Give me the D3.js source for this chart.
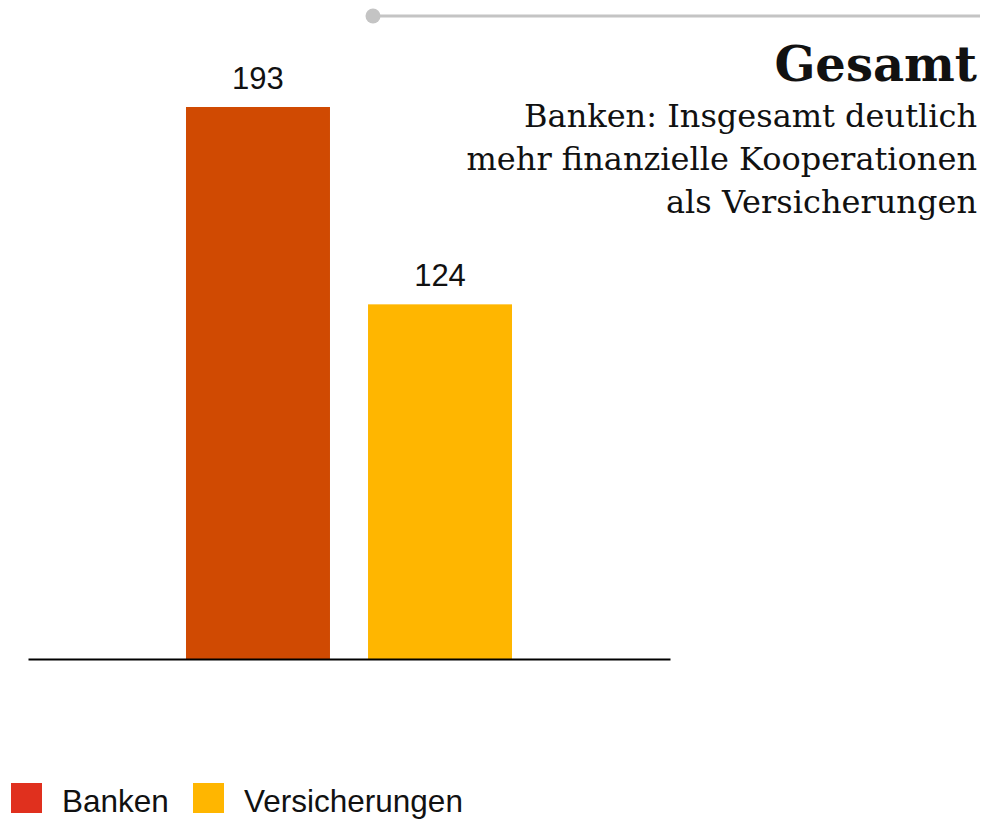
<!DOCTYPE html>
<html>
<head>
<meta charset="utf-8">
<script src="https://cdn.jsdelivr.net/npm/d3@7"></script>
<style>
  html, body { margin: 0; padding: 0; background: #fff; }
  svg { display: block; }
</style>
</head>
<body>
<svg id="chart"></svg>
<script>
// data
const categories = ['Banken', 'Versicherungen'];
const values = [193, 124];
const barColors = ['#d04a02', '#ffb600'];
const legendColors = ['#e0301e', '#ffb600'];
const title = 'Gesamt';
const subtitleLines = ['Banken: Insgesamt deutlich', 'mehr finanzielle Kooperationen', 'als Versicherungen'];

const width = 987;
const height = 821;
const plot = { left: 28, right: 670, top: 107, bottom: 659 };

const svg = d3.select('#chart').attr('width', width).attr('height', height);

// scales
const x = d3.scaleBand()
    .domain(categories)
    .range([plot.left, plot.right])
    .paddingInner(0.209)
    .paddingOuter(0.868);

const y = d3.scaleLinear()
    .domain([0, d3.max(values)])
    .range([plot.bottom, plot.top]);

const data = categories.map((c, i) => ({ cat: c, value: values[i], color: barColors[i] }));

// top decoration
svg.append('line')
    .attr('x1', 373).attr('x2', 980)
    .attr('y1', 16).attr('y2', 16)
    .attr('stroke', '#c4c4c4')
    .attr('stroke-width', 3);
svg.append('circle')
    .attr('cx', 373).attr('cy', 16).attr('r', 7.5)
    .attr('fill', '#c4c4c4');

// bars
svg.selectAll('.bar')
    .data(data)
    .enter()
    .append('rect')
    .attr('class', 'bar')
    .attr('x', d => x(d.cat))
    .attr('width', x.bandwidth())
    .attr('y', d => y(d.value))
    .attr('height', d => y(0) - y(d.value))
    .attr('fill', d => d.color);

// value labels
svg.selectAll('.label')
    .data(data)
    .enter()
    .append('text')
    .attr('class', 'label')
    .attr('x', d => x(d.cat) + x.bandwidth() / 2)
    .attr('y', d => y(d.value) - 18)
    .attr('text-anchor', 'middle')
    .attr('font-family', 'Liberation Sans, Arial, sans-serif')
    .attr('font-size', 31)
    .attr('fill', '#111')
    .text(d => d.value);

// baseline axis
const xAxis = d3.axisBottom(x).tickSize(0).tickFormat('');
const gAxis = svg.append('g')
    .attr('transform', 'translate(0,' + y(0) + ')')
    .call(xAxis);
gAxis.select('.domain')
    .attr('stroke', '#000')
    .attr('stroke-width', 2);

// title block
svg.append('text')
    .attr('x', 977).attr('y', 81)
    .attr('text-anchor', 'end')
    .attr('font-family', 'DejaVu Serif, serif')
    .attr('font-weight', 'bold')
    .attr('font-size', 48)
    .attr('fill', '#111')
    .text(title);

svg.selectAll('.sub')
    .data(subtitleLines)
    .enter()
    .append('text')
    .attr('class', 'sub')
    .attr('x', 977)
    .attr('y', (d, i) => 127 + i * 43)
    .attr('text-anchor', 'end')
    .attr('font-family', 'DejaVu Serif, serif')
    .attr('font-size', 32)
    .attr('fill', '#111')
    .text(d => d);

// legend
const legendX = [11, 193];
const legend = svg.selectAll('.legend')
    .data(categories)
    .enter()
    .append('g')
    .attr('class', 'legend')
    .attr('transform', (d, i) => 'translate(' + legendX[i] + ',783)');
legend.append('rect')
    .attr('width', 31).attr('height', 30)
    .attr('fill', (d, i) => legendColors[i]);
legend.append('text')
    .attr('x', 51).attr('y', 29)
    .attr('font-family', 'Liberation Sans, Arial, sans-serif')
    .attr('font-size', 31.5)
    .attr('fill', '#111')
    .text(d => d);
</script>
</body>
</html>
